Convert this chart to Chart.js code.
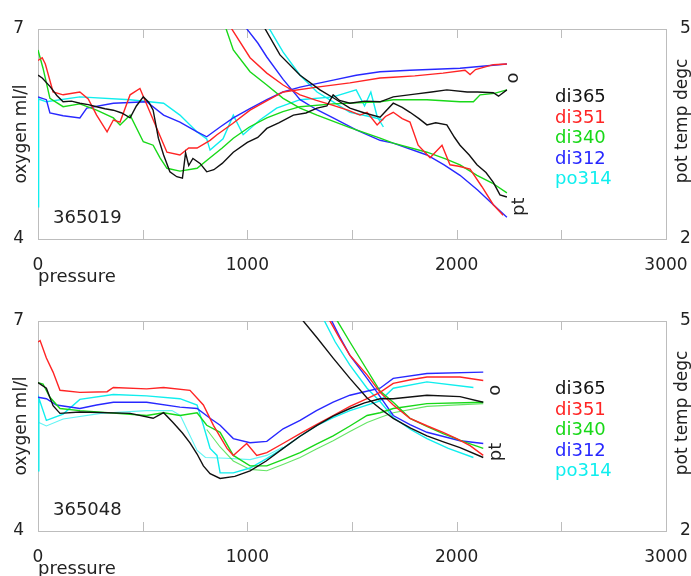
<!DOCTYPE html>
<html>
<head>
<meta charset="utf-8">
<script src="https://cdn.jsdelivr.net/npm/chart.js@4.4.1/dist/chart.umd.min.js"></script>
<style>
  body { margin: 0; background: #fff; }
  canvas { display: block; }
</style>
</head>
<body>
<canvas id="cast019" width="691" height="292"></canvas>
<canvas id="cast048" width="691" height="292"></canvas>
<script>
// casts plotted in each panel, same order as the colour key
const castNames = ['di365', 'di351', 'di340', 'di312', 'po314'];
const castColors = ['#111111', '#ff2424', '#18d818', '#2828ff', '#10eeee'];

const pressureTicks = [0, 1000, 2000, 3000];
const oxygenTicks = [4, 7];
const tempTicks = [2, 5];

// ---- station 365019: [pressure, oxygen ml/l] and [pressure, pot temp degc]
const o019_di365 = [[0,6.34],[20,6.3],[57,6.18],[90,6.05],[120,5.96],[160,5.97],[200,5.94],[240,5.92],[280,5.89],[320,5.86],[360,5.84],[400,5.8],[440,5.73],[470,5.9],[503,6.03],[530,5.95],[550,5.84],[575,5.44],[600,5.2],[630,4.96],[663,4.89],[690,4.87],[705,5.23],[720,5.05],[740,5.15],[774,5.08],[806,4.96],[840,4.99],[880,5.08],[933,5.24],[1000,5.38],[1050,5.45],[1093,5.58],[1150,5.66],[1220,5.77],[1280,5.8],[1333,5.87],[1380,5.9],[1410,6.06],[1440,5.98],[1490,5.94],[1560,5.97],[1634,5.96],[1697,6.03],[1800,6.07],[1880,6.1],[1953,6.13],[2050,6.1],[2100,6.1],[2175,6.09],[2200,6.04],[2240,6.13]];
const t019_di365 = [[1070,5.08],[1156,4.63],[1252,4.34],[1347,4.13],[1420,4.0],[1490,3.87],[1560,3.8],[1634,3.74],[1697,3.94],[1740,3.88],[1777,3.81],[1820,3.72],[1858,3.63],[1900,3.66],[1953,3.63],[1990,3.45],[2016,3.34],[2060,3.2],[2097,3.06],[2140,2.95],[2175,2.81],[2207,2.63],[2240,2.6]];
const o019_di351 = [[0,6.55],[20,6.59],[35,6.5],[72,6.1],[120,6.06],[200,6.1],[240,6.0],[280,5.77],[330,5.53],[360,5.7],[392,5.67],[440,6.06],[487,6.15],[535,5.81],[583,5.47],[616,5.24],[678,5.2],[720,5.3],[760,5.3],[822,5.41],[855,5.49],[930,5.65],[1013,5.84],[1090,5.97],[1171,6.1],[1333,6.17],[1490,6.23],[1634,6.3],[1697,6.31],[1800,6.33],[1935,6.37],[2040,6.41],[2064,6.35],[2090,6.42],[2175,6.49],[2240,6.5]];
const t019_di351 = [[915,5.05],[1013,4.59],[1093,4.37],[1171,4.2],[1252,4.06],[1330,3.98],[1410,3.91],[1480,3.84],[1538,3.77],[1572,3.81],[1620,3.63],[1660,3.75],[1697,3.81],[1740,3.72],[1777,3.67],[1816,3.34],[1873,3.16],[1930,3.34],[1968,3.06],[2010,3.04],[2064,3.0],[2120,2.75],[2175,2.49],[2222,2.34]];
const o019_di340 = [[0,6.7],[24,6.44],[57,6.01],[120,5.89],[200,5.93],[280,5.84],[360,5.73],[392,5.63],[440,5.77],[503,5.39],[550,5.34],[583,5.16],[616,5.01],[678,4.97],[760,5.01],[822,5.16],[880,5.3],[933,5.44],[1010,5.6],[1093,5.73],[1170,5.82],[1252,5.89],[1410,5.93],[1634,5.96],[1697,5.99],[1858,5.99],[2016,5.96],[2080,5.96],[2112,6.06],[2180,6.08],[2240,6.13]];
const t019_di340 = [[893,5.05],[933,4.7],[1013,4.39],[1093,4.2],[1171,4.01],[1252,3.87],[1333,3.77],[1490,3.59],[1634,3.44],[1697,3.37],[1858,3.24],[1950,3.14],[2016,3.06],[2097,2.91],[2170,2.8],[2240,2.66]];
const o019_di312 = [[0,6.03],[40,5.99],[57,5.8],[120,5.76],[200,5.73],[233,5.87],[360,5.94],[519,5.96],[600,5.77],[678,5.67],[760,5.53],[806,5.46],[870,5.6],[933,5.73],[1010,5.86],[1093,5.99],[1170,6.1],[1252,6.17],[1410,6.27],[1520,6.34],[1634,6.39],[1777,6.41],[2016,6.44],[2240,6.5]];
const t019_di312 = [[985,5.05],[1050,4.8],[1093,4.6],[1171,4.28],[1252,3.99],[1330,3.85],[1410,3.73],[1520,3.56],[1634,3.41],[1697,3.37],[1858,3.2],[1940,3.06],[2016,2.91],[2100,2.7],[2175,2.49],[2240,2.31]];
const o019_po314 = [[0,4.46],[3,6.0],[40,5.96],[200,6.03],[440,5.99],[600,5.94],[678,5.77],[760,5.53],[806,5.43],[822,5.27],[884,5.43],[933,5.77],[980,5.49],[1060,5.7],[1140,5.87],[1252,5.99],[1410,6.03],[1520,6.13],[1560,5.9],[1590,6.1],[1620,5.75],[1650,5.6]];
const t019_po314 = [[1090,5.08],[1171,4.67],[1252,4.34],[1333,4.1],[1410,3.96],[1490,3.81],[1600,3.74],[1650,3.7]];

// ---- station 365048
const o048_di365 = [[0,6.12],[40,6.04],[72,5.79],[105,5.68],[200,5.7],[440,5.68],[550,5.61],[600,5.69],[645,5.55],[690,5.4],[726,5.26],[760,5.1],[790,4.93],[822,4.82],[870,4.75],[940,4.78],[1013,4.86],[1090,5.0],[1171,5.18],[1250,5.35],[1333,5.51],[1410,5.64],[1490,5.75],[1560,5.83],[1634,5.89],[1697,5.89],[1858,5.94],[2016,5.92],[2127,5.84]];
const t048_di365 = [[1245,5.08],[1333,4.76],[1410,4.47],[1490,4.18],[1572,3.9],[1634,3.75],[1697,3.61],[1780,3.47],[1858,3.36],[1940,3.27],[2016,3.19],[2127,3.05]];
const o048_di351 = [[0,6.7],[10,6.72],[40,6.47],[72,6.27],[105,6.01],[200,5.98],[330,5.99],[360,6.05],[519,6.03],[600,6.05],[726,6.01],[790,5.8],[838,5.51],[903,5.18],[933,5.08],[997,5.25],[1045,5.08],[1093,5.12],[1170,5.25],[1252,5.39],[1330,5.52],[1410,5.65],[1490,5.78],[1572,5.89],[1634,5.98],[1697,6.11],[1780,6.16],[1858,6.2],[2016,6.2],[2127,6.15]];
const t048_di351 = [[1385,5.05],[1440,4.76],[1490,4.51],[1572,4.23],[1634,3.98],[1697,3.8],[1777,3.61],[1860,3.5],[1935,3.41],[2000,3.32],[2064,3.22],[2127,3.08]];
const o048_di340 = [[0,6.12],[24,6.1],[57,5.91],[105,5.75],[200,5.72],[519,5.65],[600,5.69],[678,5.65],[760,5.69],[806,5.51],[870,5.41],[933,5.08],[1013,4.93],[1093,4.93],[1170,5.02],[1252,5.12],[1330,5.24],[1410,5.36],[1490,5.5],[1572,5.65],[1634,5.69],[1697,5.75],[1858,5.82],[2127,5.84]];
const t048_di340 = [[1420,5.05],[1490,4.7],[1572,4.3],[1634,4.0],[1697,3.84],[1777,3.61],[1860,3.49],[1935,3.39],[2030,3.28],[2127,3.18]];
const o048_di312 = [[0,5.91],[40,5.89],[88,5.8],[200,5.75],[280,5.8],[360,5.84],[519,5.84],[678,5.77],[760,5.75],[822,5.61],[870,5.51],[933,5.32],[1013,5.26],[1093,5.28],[1171,5.46],[1252,5.58],[1330,5.72],[1410,5.84],[1490,5.94],[1560,5.99],[1634,6.04],[1697,6.18],[1858,6.25],[2127,6.27]];
const t048_di312 = [[1395,5.05],[1440,4.78],[1490,4.51],[1572,4.18],[1620,3.98],[1697,3.65],[1777,3.52],[1858,3.41],[2016,3.29],[2127,3.25]];
const o048_po314 = [[0,4.86],[4,5.9],[40,5.58],[120,5.67],[200,5.88],[360,5.95],[519,5.93],[678,5.89],[760,5.8],[790,5.51],[822,5.18],[855,5.08],[870,4.83],[933,4.83],[1013,4.9],[1090,5.03],[1171,5.18],[1250,5.35],[1333,5.51],[1410,5.62],[1490,5.72],[1634,5.86],[1697,6.04],[1858,6.13],[2080,6.05]];
const t048_po314 = [[1360,5.05],[1420,4.7],[1490,4.37],[1572,4.04],[1634,3.85],[1697,3.62],[1780,3.45],[1858,3.32],[1960,3.18],[2080,3.05]];

// second (up) oxygen profiles where they separate from the down cast
const o048_di340_up = [[806,5.45],[870,5.2],[933,5.0],[1013,4.88],[1093,4.86],[1170,4.95],[1252,5.05],[1330,5.17],[1410,5.29],[1490,5.42],[1572,5.55],[1634,5.62],[1697,5.69],[1858,5.78],[2127,5.82]];
const o048_po314_up = [[4,5.55],[40,5.5],[120,5.6],[300,5.68],[519,5.72],[640,5.72],[680,5.65],[720,5.4],[760,5.15],[800,5.05],[900,5.04],[1013,5.02],[1093,5.08],[1171,5.2]];

// where the "o" and "pt" tags sit, in [pressure, oxygen] / [pressure, pot temp]
const tags019 = { o: [2269, 6.3], pt: [2297, 2.46] };
const tags048 = { o: [2183, 6.01], pt: [2188, 3.13] };

const FONT = "'DejaVu Sans', sans-serif";
const INK = '#222';

function pts(arr) {
    return arr.map(p => ({x: p[0], y: p[1]}));
}

function lineSet(arr, color, axis, width) {
    return {
        data: pts(arr),
        yAxisID: axis,
        borderColor: color,
        borderWidth: width || 1.4,
        pointRadius: 0,
        tension: 0,
        fill: false
    };
}

// frame, inward pressure ticks, colour key, station id and curve tags
const decor = {
    id: 'decor',
    beforeDatasetsDraw(chart) {
        const {ctx, chartArea: a} = chart;
        const x = chart.scales.x;
        ctx.save();
        ctx.strokeStyle = '#bdbdbd';
        ctx.lineWidth = 1;
        ctx.strokeRect(a.left + 0.5, a.top + 0.5, a.right - a.left, a.bottom - a.top);
        for (let p = 500; p < 3000; p += 500) {
            const px = Math.round(x.getPixelForValue(p)) + 0.5;
            ctx.beginPath();
            ctx.moveTo(px, a.top);
            ctx.lineTo(px, a.top + 9);
            ctx.moveTo(px, a.bottom);
            ctx.lineTo(px, a.bottom - 9);
            ctx.stroke();
        }
        ctx.restore();
    },
    afterDraw(chart, args, opts) {
        const {ctx} = chart;
        const x = chart.scales.x, y = chart.scales.y, y2 = chart.scales.y2;
        ctx.save();
        ctx.textBaseline = 'alphabetic';
        ctx.font = '18px ' + FONT;
        castNames.forEach((n, i) => {
            ctx.fillStyle = castColors[i];
            ctx.fillText(n, 555, 102 + i * 20.6);
        });
        ctx.fillStyle = INK;
        ctx.fillText(opts.station, 53, 223);

        // rotated labels
        const rot = (txt, px, py, size) => {
            ctx.save();
            ctx.translate(px, py);
            ctx.rotate(-Math.PI / 2);
            ctx.font = size + 'px ' + FONT;
            ctx.textAlign = 'center';
            ctx.textBaseline = 'middle';
            ctx.fillText(txt, 0, 0);
            ctx.restore();
        };
        rot('o', x.getPixelForValue(opts.tags.o[0]), y.getPixelForValue(opts.tags.o[1]), 18);
        rot('pt', x.getPixelForValue(opts.tags.pt[0]), y2.getPixelForValue(opts.tags.pt[1]), 18);
        rot('pot temp degc', 683, 121, 17);
        ctx.restore();
    }
};

function makePanel(canvasId, station, oxy, temp, extra, tags) {
    const datasets = [];
    castNames.forEach((n, i) => {
        datasets.push(lineSet(oxy[i], castColors[i], 'y'));
        datasets.push(lineSet(temp[i], castColors[i], 'y2'));
    });
    extra.forEach(e => {
        datasets.push(lineSet(e.data, castColors[castNames.indexOf(e.cast)] + 'aa', 'y', 1.1));
    });
    return new Chart(document.getElementById(canvasId), {
        type: 'line',
        data: {datasets: datasets},
        options: {
            responsive: false,
            animation: false,
            devicePixelRatio: 1,
            layout: {padding: {top: 29, left: 0, right: 0, bottom: 0}},
            plugins: {
                legend: {display: false},
                tooltip: {enabled: false},
                decor: {station: station, tags: tags}
            },
            scales: {
                x: {
                    type: 'linear',
                    min: 0,
                    max: 3000,
                    afterBuildTicks: s => { s.ticks = pressureTicks.map(v => ({value: v})); },
                    afterFit: s => { s.height = 53; s.paddingLeft = 0; s.paddingRight = 0; },
                    grid: {display: false},
                    border: {display: false},
                    ticks: {color: INK, font: {family: FONT, size: 17}, padding: 8, maxRotation: 0,
                        autoSkip: false, callback: v => String(v)},
                    title: {display: true, text: 'pressure', align: 'start', color: INK,
                        font: {family: FONT, size: 18}, padding: {top: 0, bottom: 4}}
                },
                y: {
                    type: 'linear',
                    position: 'left',
                    min: 4,
                    max: 7,
                    afterBuildTicks: s => { s.ticks = oxygenTicks.map(v => ({value: v})); },
                    afterFit: s => { s.width = 38; },
                    grid: {display: false},
                    border: {display: false},
                    ticks: {color: INK, font: {family: FONT, size: 17}, padding: 6, callback: v => String(v)},
                    title: {display: true, text: 'oxygen ml/l', color: INK,
                        font: {family: FONT, size: 17}, padding: {top: 11, bottom: 0}}
                },
                y2: {
                    type: 'linear',
                    position: 'right',
                    min: 2,
                    max: 5,
                    afterBuildTicks: s => { s.ticks = tempTicks.map(v => ({value: v})); },
                    afterFit: s => { s.width = 25; },
                    grid: {display: false},
                    border: {display: false},
                    ticks: {color: INK, font: {family: FONT, size: 17}, padding: 6, callback: v => String(v)}
                }
            }
        },
        plugins: [decor]
    });
}

makePanel('cast019', '365019',
    [o019_di365, o019_di351, o019_di340, o019_di312, o019_po314],
    [t019_di365, t019_di351, t019_di340, t019_di312, t019_po314],
    [],
    tags019);

makePanel('cast048', '365048',
    [o048_di365, o048_di351, o048_di340, o048_di312, o048_po314],
    [t048_di365, t048_di351, t048_di340, t048_di312, t048_po314],
    [{cast: 'di340', data: o048_di340_up}, {cast: 'po314', data: o048_po314_up}],
    tags048);
</script>
</body>
</html>
